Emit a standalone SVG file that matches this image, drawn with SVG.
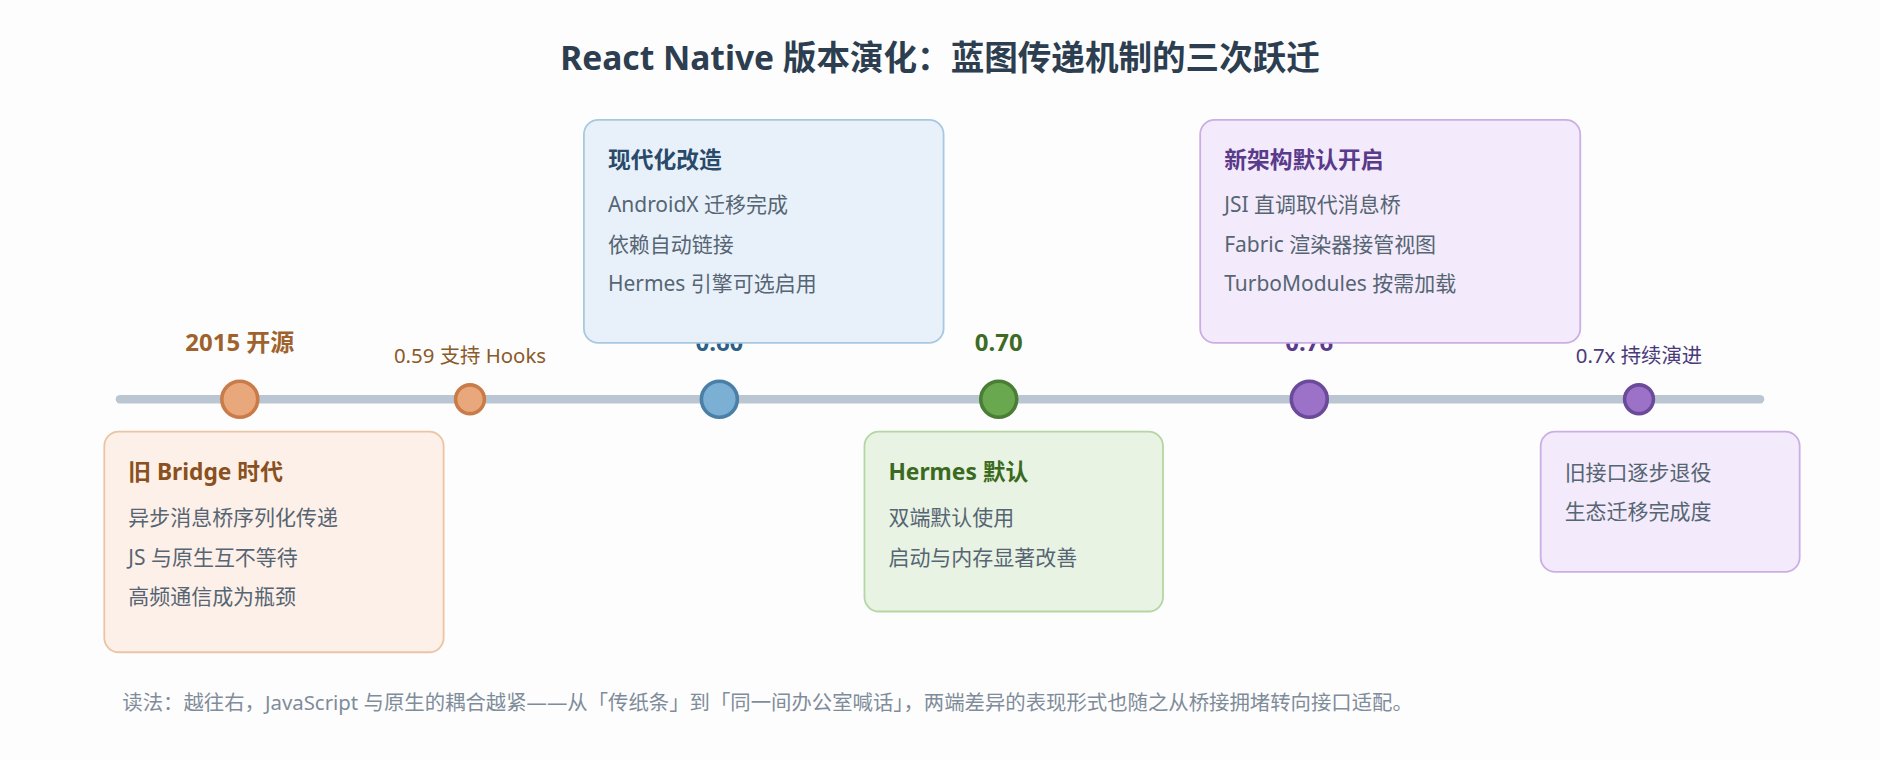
<svg xmlns="http://www.w3.org/2000/svg" width="1880" height="760" viewBox="0 0 1880 760">
<style>
text{font-family:"Noto Sans","Noto Sans CJK SC",sans-serif}
.t{font-size:28px;font-weight:700;fill:#2c3e50}
.big{font-size:20px;font-weight:700}
.sm{font-size:17px}
.ct{font-size:19px;font-weight:700}
.ln{font-size:17.5px;fill:#566573}
.foot{font-size:17px;fill:#7f8c9a}
.card{stroke-width:1.5}
</style>
<rect width="1880" height="760" fill="#fdfdfd"/>
<g transform="scale(1.19898)">
<text class="t" x="784" y="58" text-anchor="middle">React Native 版本演化：蓝图传递机制的三次跃迁</text>
<g id="connectors">
<line x1="100" y1="333" x2="1468" y2="333" stroke="#bac6d2" stroke-width="7" stroke-linecap="round"/>
</g>
<g id="n2015">
<text class="big" x="200" y="293" text-anchor="middle" fill="#a0622d">2015 开源</text>
<circle cx="200" cy="333" r="15" fill="#e8a87c" stroke="#c97b4a" stroke-width="3"/>
</g>
<g id="n059">
<text class="sm" x="392" y="303" text-anchor="middle" fill="#8a5a2b">0.59 支持 Hooks</text>
<circle cx="392" cy="333" r="12" fill="#e8a87c" stroke="#c97b4a" stroke-width="3"/>
</g>
<g id="n060">
<text class="big" x="600" y="293" text-anchor="middle" fill="#2e5f87">0.60</text>
<circle cx="600" cy="333" r="15" fill="#7bafd4" stroke="#4a7fa8" stroke-width="3"/>
</g>
<g id="n070">
<text class="big" x="833" y="293" text-anchor="middle" fill="#3d6b24" font-size="22">0.70</text>
<circle cx="833" cy="333" r="15" fill="#6aa84f" stroke="#4a7d36" stroke-width="3"/>
</g>
<g id="n076">
<text class="big" x="1092" y="293" text-anchor="middle" fill="#5a3a8a">0.76</text>
<circle cx="1092" cy="333" r="15" fill="#9b72c8" stroke="#6b4a9a" stroke-width="3"/>
</g>
<g id="n07x">
<text class="sm" x="1367" y="303" text-anchor="middle" fill="#4a3a7a">0.7x 持续演进</text>
<circle cx="1367" cy="333" r="12" fill="#9b72c8" stroke="#6b4a9a" stroke-width="3"/>
</g>
<g id="card-bridge">
<rect class="card" x="87" y="360" width="283" height="184" rx="12" fill="#fdf0e8" stroke="#ebc4a4"/>
<text class="ct" x="107" y="400" fill="#8a5020">旧 Bridge 时代</text>
<text class="ln" x="107" y="438">异步消息桥序列化传递</text>
<text class="ln" x="107" y="471">JS 与原生互不等待</text>
<text class="ln" x="107" y="504">高频通信成为瓶颈</text>
</g>
<g id="card-modern">
<rect class="card" x="487" y="100" width="300" height="186" rx="12" fill="#e8f1fa" stroke="#a8c8e0"/>
<text class="ct" x="507" y="140" fill="#2a4a6a">现代化改造</text>
<text class="ln" x="507" y="177">AndroidX 迁移完成</text>
<text class="ln" x="507" y="210">依赖自动链接</text>
<text class="ln" x="507" y="243">Hermes 引擎可选启用</text>
</g>
<g id="card-hermes">
<rect class="card" x="721" y="360" width="249" height="150" rx="12" fill="#e9f3e3" stroke="#b3d6a3"/>
<text class="ct" x="741" y="400" fill="#3a6a20">Hermes 默认</text>
<text class="ln" x="741" y="438">双端默认使用</text>
<text class="ln" x="741" y="471">启动与内存显著改善</text>
</g>
<g id="card-newarch">
<rect class="card" x="1001" y="100" width="317" height="186" rx="12" fill="#f3ebfb" stroke="#cbaee3"/>
<text class="ct" x="1021" y="140" fill="#5a3a8a">新架构默认开启</text>
<text class="ln" x="1021" y="177">JSI 直调取代消息桥</text>
<text class="ln" x="1021" y="210">Fabric 渲染器接管视图</text>
<text class="ln" x="1021" y="243">TurboModules 按需加载</text>
</g>
<g id="card-legacy">
<rect class="card" x="1285" y="360" width="216" height="117" rx="12" fill="#f3ebfb" stroke="#cbaee3"/>
<text class="ln" x="1305" y="400" fill="#5a4a6a">旧接口逐步退役</text>
<text class="ln" x="1305" y="433" fill="#5a4a6a">生态迁移完成度</text>
</g>
<text class="foot" x="102" y="592">读法：越往右，JavaScript 与原生的耦合越紧——从「传纸条」到「同一间办公室喊话」，两端差异的表现形式也随之从桥接拥堵转向接口适配。</text>
</g>
</svg>
